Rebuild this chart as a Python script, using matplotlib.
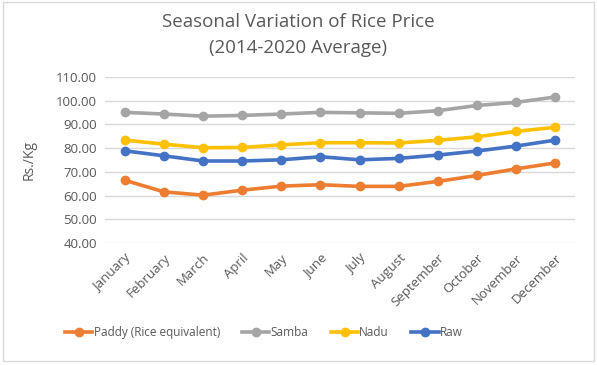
import matplotlib.pyplot as plt
from matplotlib.patches import Rectangle

plt.rcParams['font.family'] = ['Open Sans', 'DejaVu Sans']

months = ['January', 'February', 'March', 'April', 'May', 'June', 'July',
          'August', 'September', 'October', 'November', 'December']
paddy = [66.5, 61.6, 60.2, 62.3, 64.0, 64.6, 63.9, 63.9, 66.0, 68.5, 71.3, 73.8]
samba = [95.1, 94.4, 93.5, 93.8, 94.4, 95.1, 94.9, 94.7, 95.8, 98.0, 99.3, 101.6]
nadu = [83.4, 81.7, 80.2, 80.3, 81.4, 82.3, 82.3, 82.2, 83.3, 84.8, 87.1, 88.8]
raw = [78.9, 76.8, 74.6, 74.6, 75.1, 76.4, 75.1, 75.7, 77.1, 78.8, 80.9, 83.4]
yticks = [40, 50, 60, 70, 80, 90, 100, 110]

fig = plt.figure(figsize=(5.97, 3.65), dpi=100)
ax = fig.add_axes([0.176, 0.334, 0.787, 0.455])

x = range(len(months))
series = [
    ('Paddy (Rice equivalent)', paddy, '#ED7D31'),
    ('Samba', samba, '#A5A5A5'),
    ('Nadu', nadu, '#FFC000'),
    ('Raw', raw, '#4472C4'),
]
for name, vals, col in series:
    ax.plot(x, vals, color=col, linewidth=2.6, marker='o', markersize=6,
            label=name, zorder=3)

ax.set_xlim(-0.5, 11.5)
ax.set_ylim(40, 110)
ax.set_yticks(yticks)
ax.set_yticklabels([f'{v:.2f}' for v in yticks], fontsize=9.5, color='#595959')
ax.set_xticks(list(x))
ax.set_xticklabels(months, rotation=45, ha='right', rotation_mode='anchor',
                   fontsize=9.5, color='#595959')
ax.tick_params(length=0, pad=6)
ax.grid(axis='y', color='#D9D9D9', linewidth=1)
for s in ax.spines.values():
    s.set_visible(False)

ax.set_ylabel('Rs./Kg', fontsize=10, color='#595959', labelpad=14)
fig.text(0.5, 0.94, 'Seasonal Variation of Rice Price', ha='center', va='center',
         fontsize=13.5, color='#595959')
fig.text(0.5, 0.868, '(2014-2020 Average)', ha='center', va='center',
         fontsize=13.5, color='#595959')

fig.legend(loc='center', bbox_to_anchor=(0.442, 0.088), ncol=4, frameon=False,
           fontsize=8.5, handlelength=2.3, columnspacing=1.9, handletextpad=0.1,
           labelcolor='#595959')

fig.patches.append(Rectangle((0.005, 0.01), 0.99, 0.985, transform=fig.transFigure,
                             fill=False, edgecolor='#D9D9D9', linewidth=1))

fig.savefig('out.png', dpi=100)
